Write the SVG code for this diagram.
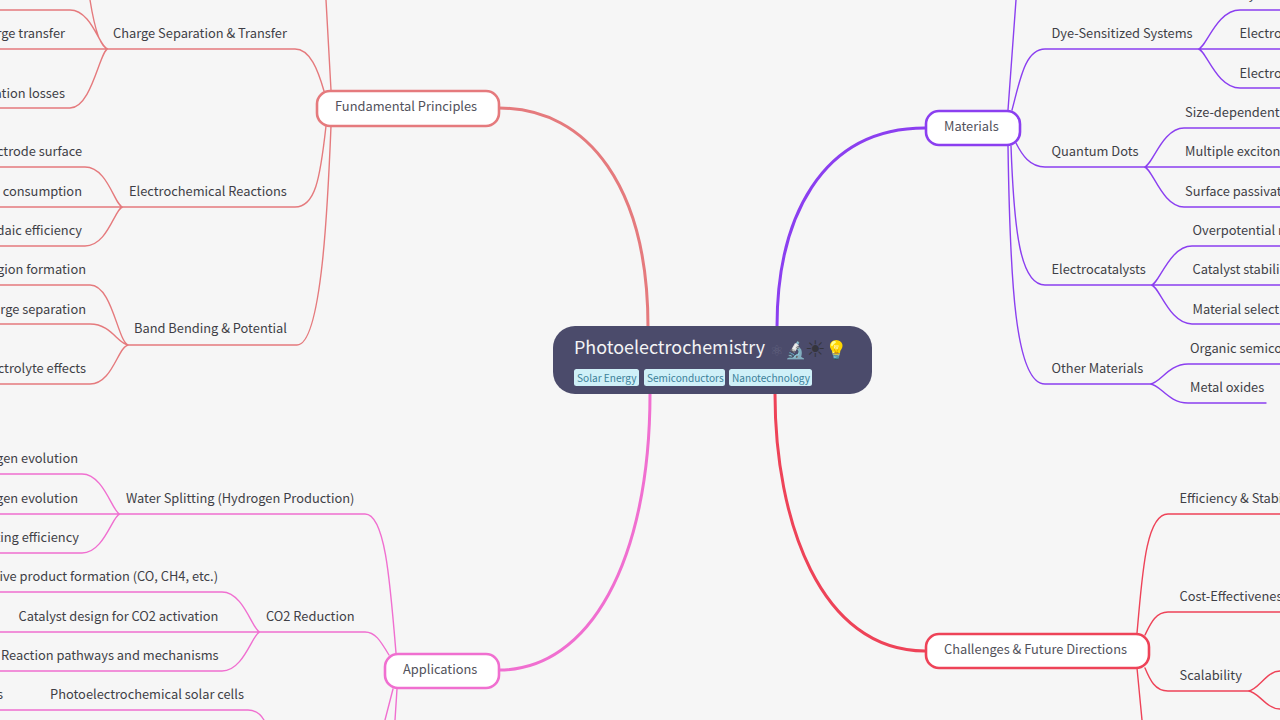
<svg xmlns="http://www.w3.org/2000/svg" width="1280" height="720" viewBox="0 0 1280 720">
<style>
text{font-family:"Noto Sans CJK SC","Noto Sans",sans-serif;font-size:12.85px;fill:#3f3f46}
.e{text-anchor:end}
.l{fill:none;stroke-width:1.4;stroke-linecap:round}
.t{fill:none;stroke-width:3}
.n{fill:#fff;stroke-width:2.6}
.a{stroke:#e57a7d}.b{stroke:#8b3ff0}.c{stroke:#f06fd0}.d{stroke:#ee4358}
.tag{fill:#cff0f8;stroke:none}
text.tt{font-size:10.1px;fill:#3b7f99}
text.nt{fill:#52525b}
</style>
<rect width="1280" height="720" fill="#f6f6f6"/>
<g id="connectors">
<g class="a">
<path class="t a" d="M499 108C590 108 648 190 648 327"/>
<path class="l a" d="M326 0L331 90M324 91C318 70 310 49 295 49H108M108 49C100 49 92 10 70 10H0M108 49H0M108 49C100 48 94 25 90 0M108 49C100 49 92 108 70 108H0M326 126C320 180 315 207 295 207H123M123 207C115 207 108 167 85 167H0M123 207H0M123 207C115 207 108 246 85 246H0M331 126C328 200 322 345 297 345H129M129 345C118 345 113 285 90 285H0M129 345C118 345 112 324 90 324H0M129 345C118 345 113 384 90 384H0"/>
</g>
<g class="c">
<path class="t c" d="M499 670C590 670 650 560 650 394"/>
<path class="l c" d="M396 653C390 580 385 514 365 514H120M120 514C113 514 104 474 82 474H0M120 514H0M120 514C113 514 104 553 82 553H0M389 655C380 640 375 632 365 632H260M260 632C253 632 244 592 222 592H0M260 632H0M260 632C253 632 244 671 222 671H0M397 689L395 720M393 689L385 720M0 710H248C256 710 261 715 264 720"/>
</g>
<g class="b">
<path class="t b" d="M777 327C777 220 820 128 925 128"/>
<path class="l b" d="M1016 0L1008 110M1012 110C1020 80 1025 49 1045 49H1198M1198 49C1206 49 1216 10 1240 10H1280M1198 49H1280M1198 49C1206 49 1216 88 1240 88H1280M1016 143C1022 155 1030 167 1045 167H1144M1144 167C1152 167 1162 128 1184 128H1280M1144 167H1280M1144 167C1152 167 1162 207 1184 207H1280M1011 146C1014 230 1020 285 1045 285H1151M1151 285C1159 285 1169 246 1192 246H1280M1151 285H1280M1151 285C1159 285 1169 324 1192 324H1280M1008 146C1010 280 1015 384 1045 384H1150M1150 384C1160 384 1168 364 1188 364H1280M1150 384C1160 384 1168 403 1188 403H1266"/>
</g>
<g class="d">
<path class="t d" d="M775 394C775 520 820 651 925 651"/>
<path class="l d" d="M1137 633C1142 580 1145 514 1168 514H1280M1145 635C1150 625 1155 612 1168 612H1280M1145 668C1150 680 1155 691 1168 691H1248M1248 691C1258 691 1266 671 1280 671M1248 691C1258 691 1266 709 1280 709M1137 668L1142 720"/>
</g>
</g>
<g id="root">
<rect x="553" y="326" width="319" height="68" rx="22" fill="#4b4b6b"/>
<text x="574" y="354" style="font-size:17.9px;fill:#f4f4f5">Photoelectrochemistry</text>
<text x="770" y="356" style="font-family:'DejaVu Sans',sans-serif;font-size:15px;fill:#62627f">⚛&#xFE0E;</text>
<text x="785" y="356" style="font-family:'Noto Color Emoji','DejaVu Sans',sans-serif;font-size:17px">🔬</text>
<text x="805" y="357" style="font-family:'DejaVu Sans',sans-serif;font-size:23px;fill:#35353d">☀&#xFE0E;</text>
<text x="825" y="356" style="font-family:'Noto Color Emoji','DejaVu Sans',sans-serif;font-size:18px">💡</text>
<rect class="tag" x="574" y="369" width="65" height="17" rx="2.5"/><text class="tt" x="577" y="382">Solar Energy</text>
<rect class="tag" x="644" y="369" width="81" height="17" rx="2.5"/><text class="tt" x="647" y="382">Semiconductors</text>
<rect class="tag" x="729" y="369" width="83" height="17" rx="2.5"/><text class="tt" x="732" y="382">Nanotechnology</text>
</g>
<g id="fundamental"><rect class="n a" x="317" y="91" width="182" height="35" rx="13"/><text class="nt" x="335" y="111">Fundamental Principles</text></g>
<g id="applications"><rect class="n c" x="385" y="654" width="114" height="34" rx="13"/><text class="nt" x="403" y="674">Applications</text></g>
<g id="materials"><rect class="n b" x="926" y="111" width="94" height="34" rx="13"/><text class="nt" x="944" y="131">Materials</text></g>
<g id="challenges"><rect class="n d" x="926" y="634" width="223" height="34" rx="13"/><text class="nt" x="944" y="654">Challenges &amp; Future Directions</text></g>
<g id="left-labels">
<text x="113" y="38">Charge Separation &amp; Transfer</text>
<text class="e" x="65" y="38">Charge transfer</text>
<text class="e" x="65" y="98">Recombination losses</text>
<text class="e" x="82" y="156">Electrode surface</text>
<text x="129" y="195.5">Electrochemical Reactions</text>
<text class="e" x="82" y="195.5">consumption</text>
<text class="e" x="82" y="235">Faradaic efficiency</text>
<text class="e" x="86" y="274">Region formation</text>
<text class="e" x="86" y="313.5">Charge separation</text>
<text x="134" y="333">Band Bending &amp; Potential</text>
<text class="e" x="86" y="372.5">Electrolyte effects</text>
<text class="e" x="78" y="463">Hydrogen evolution</text>
<text class="e" x="78" y="503">Oxygen evolution</text>
<text x="126" y="503">Water Splitting (Hydrogen Production)</text>
<text class="e" x="79" y="542">Splitting efficiency</text>
<text class="e" x="218" y="581">Selective product formation (CO, CH4, etc.)</text>
<text x="18.5" y="620.5">Catalyst design for CO2 activation</text>
<text x="266" y="620.5">CO2 Reduction</text>
<text x="1" y="660">Reaction pathways and mechanisms</text>
<text class="e" x="3" y="699">s</text>
<text x="50" y="699">Photoelectrochemical solar cells</text>
</g>
<g id="right-labels">
<text x="1051.5" y="38">Dye-Sensitized Systems</text>
<text x="1240" y="-1">Dy</text>
<text x="1239.5" y="38">Electro</text>
<text x="1239.5" y="78">Electro</text>
<text x="1051.5" y="156">Quantum Dots</text>
<text x="1185" y="117">Size-dependent</text>
<text x="1185" y="156">Multiple exciton</text>
<text x="1185" y="196">Surface passivat</text>
<text x="1051.5" y="274">Electrocatalysts</text>
<text x="1192.5" y="235">Overpotential r</text>
<text x="1192.5" y="274">Catalyst stabili</text>
<text x="1192.5" y="313.5">Material select</text>
<text x="1051.5" y="372.5">Other Materials</text>
<text x="1190" y="353">Organic semico</text>
<text x="1190" y="392">Metal oxides</text>
<text x="1179.5" y="503">Efficiency &amp; Stabi</text>
<text x="1179.5" y="601">Cost-Effectivenes</text>
<text x="1179.5" y="680">Scalability</text>
</g>
</svg>
